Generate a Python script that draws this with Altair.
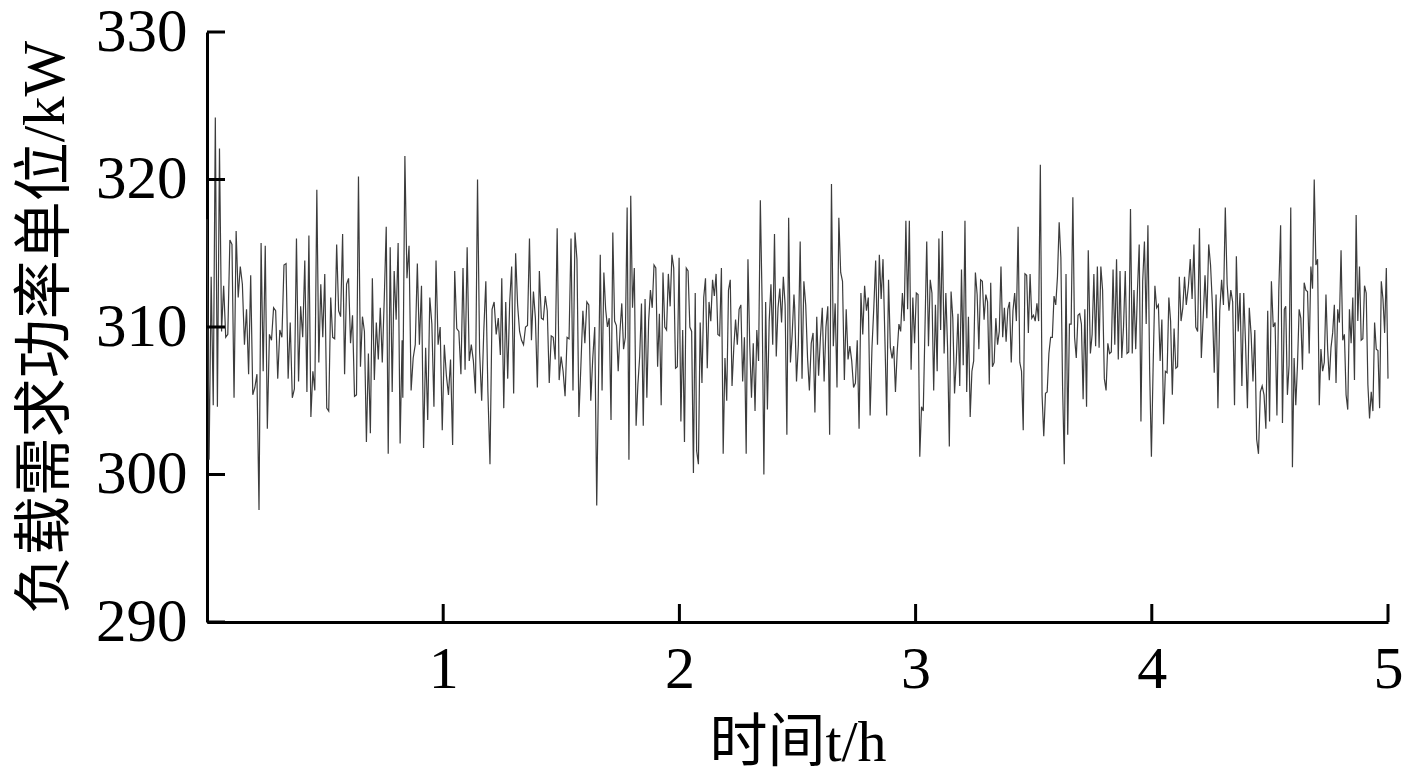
import altair as alt
import pandas as pd
import numpy as np

# Load demand values (kW), in 12 consecutive stretches
seg01 = [317.3, 301, 313.4, 304.7, 324.2, 304.6, 322.1, 309.7, 312.8, 309.3, 309.5, 315.9, 315.6, 305.2, 316.5, 312, 314.1, 312.9, 308.8, 311.2, 306.8, 313.5, 305.4, 305.9, 306.8, 297.6, 315.7, 307, 315.5, 303.1, 309.5, 309.1, 311.3, 311.1, 306.5, 309.8, 309.3, 314.2, 314.3, 306.5, 310.3, 305.2, 305.8, 316, 306.3, 311.4, 309.3, 314.5]
seg02 = [305.6, 316.2, 303.9, 307, 305.7, 319.3, 307.6, 312.9, 309.3, 313.6, 304.5, 304.3, 312, 309.3, 309.2, 315.6, 311.1, 310.7, 316.3, 306.8, 312.9, 313.3, 308.9, 310.8, 305.3, 305.4, 320.2, 307.3, 310.7, 309.7, 302.2, 308.2, 302.8, 313.3, 306.4, 310.3, 307.8, 311.3, 307.6, 311.9, 316.8, 301.4, 315.4, 305.6, 313.8, 310.5, 315.7, 302.1, 309.1]
seg03 = [305.2, 321.6, 313.3, 315.5, 305.7, 307.9, 308.8, 314.3, 308.8, 312.8, 301.8, 308.6, 303.7, 312, 310.2, 304.6, 314.5, 308.8, 310, 303, 308.8, 306.7, 305.4, 307.8, 302, 313.8, 309.9, 309.7, 306.8, 314, 307.1, 315.4, 307.7, 308.8, 307.7, 305.5, 320, 308.3, 305, 309.7, 313.1, 305.6, 300.7, 311.2, 311.7, 309.5, 310.6, 308.1]
seg04 = [313.3, 304.5, 311.7, 306.5, 311.7, 314.1, 305.5, 315, 311.5, 309.7, 309.1, 308.8, 310, 310.1, 316, 309.1, 312.4, 310.6, 305.9, 313.8, 310.6, 310.5, 312.1, 311.1, 306.2, 309.4, 309.3, 307.8, 316.7, 306.4, 308, 307, 305.3, 309.3, 309.2, 316, 305.7, 316.4, 314.6, 303.9, 307.4, 311.1, 308.9, 311.7, 311.5, 305, 307.9, 310, 297.9]
seg05 = [314.9, 305.7, 313.7, 311.2, 310, 310.6, 303.7, 316.4, 310.4, 310.1, 307, 309.7, 311.6, 308.5, 309.3, 318.1, 301, 318.9, 311.3, 314, 303.3, 306.1, 308, 311.6, 303.3, 311.9, 305.2, 310.4, 312.5, 311.3, 314.2, 314, 307.3, 310.9, 304.7, 313.7, 310, 309.8, 313.6, 311.4, 314.9, 314, 307.2, 307.3, 314.7, 303.6, 309.8, 302.2, 314, 313.8, 310, 309.7, 300.1, 312.3]
seg06 = [301.6, 300.7, 310.3, 306.2, 312, 313.3, 307.2, 311.7, 310.4, 313.2, 312.1, 313.6, 309.5, 309.4, 314, 301.4, 307.9, 305, 312.5, 313.2, 306, 308.6, 310.5, 308.8, 311.2, 311.5, 306.3, 309.3, 301.4, 314.6, 308.8, 305.2, 308.9, 304.3, 309.8, 307.7, 318.6, 311.7, 300, 311.7, 304.4, 310.4, 312.9, 308.8, 316.3, 308, 311.3, 312.6, 310.3, 313.4, 311.5, 302.7, 317.4, 307.6, 309.5, 312.2]
seg07 = [311.3, 306.3, 308.8, 315.8, 306.5, 313.1, 311.5, 307.9, 305.7, 308.9, 309.6, 304.2, 310.7, 306.7, 309.3, 311.3, 306.3, 310, 311.4, 302.7, 319.7, 308.7, 311.6, 305.9, 317.4, 313.7, 313.1, 306.4, 311.2, 307.8, 308.7, 307.7, 305.9, 306.2, 309.1, 303.1, 312.3, 309.5, 312.8, 311.1, 312, 304, 308.6, 311.3, 314.5, 308.8, 314.9, 311.9, 314.6, 309.3, 304, 313.2, 308.6, 307.9]
seg08 = [307.9, 308.7, 305.6, 308.3, 310.2, 309.7, 312.3, 310.4, 317.2, 311.2, 317.2, 307.1, 312, 308.9, 312.3, 312.2, 301.2, 304.6, 304.3, 310, 315.8, 308.7, 313.2, 312.3, 305.7, 311.5, 307, 316, 309.8, 316.5, 308.2, 312.3, 308.6, 301.9, 312.4, 310.6, 305.5, 307.7, 310.9, 306, 313.9, 307.4, 317.2, 305.6, 310.7, 303.9, 307, 307.7, 313.7, 312.2, 308.5, 313.2, 313.1, 310.5, 312.2, 311.7, 306.1]
seg09 = [313.0, 307.3, 307.6, 310.6, 308.8, 309.7, 314.1, 309.3, 311.3, 309, 311.2, 311.7, 307.6, 311.1, 312.3, 310.4, 316.8, 307.6, 307, 303, 313.6, 313.5, 309.6, 313.6, 310.6, 310.8, 310.4, 311.6, 310.4, 321, 305.4, 302.6, 305.5, 305.6, 308.2, 309.3, 309.3, 312.1, 311.5, 313.4, 317.1, 314.7, 305.9, 300.7, 313.6, 302.7, 310.2, 310.2, 318.8, 309.3, 307.9, 310.8, 310.9, 310.2, 305.1, 311.2, 304.6, 315.2]
seg10 = [308.2, 309.5, 313.6, 308.7, 314.1, 308.6, 314.1, 312.5, 306.5, 305.7, 308.9, 308.2, 308.3, 313.9, 308.8, 314.6, 307.8, 313.8, 307.9, 310, 313.8, 308.2, 308.3, 318, 308.2, 312.5, 308.5, 312.5, 315.6, 303.6, 313.1, 315.8, 310.2, 316.9, 307, 301.2, 307.4, 312.8, 311.3, 311.5, 307.7, 310.5, 303.4, 307, 306.9, 312, 310.4, 305.4, 309.9, 307.2, 307.3, 313.4, 310.4, 311.3, 313.4, 311.5]
seg11 = [312.8, 314.6, 311.9, 315.6, 310, 309.7, 316.7, 307.9, 310.6, 313.5, 310.6, 315.6, 314.2, 311.5, 306.9, 312.2, 304.5, 311.1, 313.2, 311.5, 318.1, 312.9, 311.1, 312.5, 311.7, 304.7, 314.8, 309.7, 312.3, 306, 312.3, 308.8, 304.5, 311.3, 309.5, 306.3, 309.8, 302.4, 301.4, 305.6, 306, 305.4, 303.1, 311.1, 303.6, 313.1, 310, 310.3, 304, 312.4, 316.9, 303.5, 311.2]
seg12 = [311.4, 305.4, 307.4, 318.1, 300.5, 307.9, 304.7, 307.4, 311.2, 310.6, 307.1, 313, 312.5, 312.4, 308.2, 314.1, 312.6, 320, 314.2, 314.6, 304.7, 308.5, 307, 307.6, 312.2, 308.5, 306.4, 308.6, 309.6, 311.5, 306.2, 311.2, 310.3, 315.2, 309.1, 309.5, 305.4, 304.4, 311.2, 308.9, 312, 306.4, 317.6, 310.4, 314.1, 309.1, 309.2, 312.8, 312.3, 306.1, 303.8, 305.6, 304.3, 310.3, 308.5, 308.4, 304.5, 313.1, 311.9, 309.6, 314, 306.5]

segments = [seg01, seg02, seg03, seg04, seg05, seg06, seg07, seg08, seg09, seg10, seg11, seg12]
# time span (hours) covered by each stretch
seg_start = [0.0, 0.423, 0.829, 1.248, 1.665, 2.073, 2.488, 2.900, 3.318, 3.740, 4.155, 4.567]
seg_end = [0.414, 0.826, 1.242, 1.650, 2.067, 2.485, 2.901, 3.312, 3.731, 4.146, 4.561, 5.0]

y_ticks = [290, 300, 310, 320, 330]
x_ticks = [1, 2, 3, 4, 5]

ts, vs = [], []
for seg, a, b in zip(segments, seg_start, seg_end):
    ts.extend(np.linspace(a, b, len(seg)).tolist())
    vs.extend(seg)
df = pd.DataFrame({"t": ts, "load": vs})

SERIF = "Liberation Serif, Times New Roman, Noto Sans CJK SC"

x_enc = alt.X("t:Q", scale=alt.Scale(domain=[0, 5], nice=False, zero=False),
              axis=alt.Axis(values=x_ticks, ticks=False, grid=False, domainWidth=3,
                            domainColor="black", labelFont=SERIF, labelFontSize=60,
                            labelColor="black", labelPadding=18, labelFlush=False,
                            title="时间t/h", titleFont=SERIF, titleFontSize=58,
                            titleFontWeight="normal", titleColor="black", titlePadding=15))
y_enc = alt.Y("load:Q", scale=alt.Scale(domain=[290, 330], nice=False, zero=False),
              axis=alt.Axis(values=y_ticks, ticks=False, grid=False, domainWidth=3,
                            domainColor="black", labelFont=SERIF, labelFontSize=61,
                            labelColor="black", labelPadding=20, labelFlush=False,
                            title="负载需求功率单位/kW", titleFont=SERIF, titleFontSize=59,
                            titleFontWeight="normal", titleColor="black", titlePadding=20))

line = alt.Chart(df).mark_line(color="#3c3c3c", strokeWidth=1.2).encode(x=x_enc, y=y_enc)

ytick = alt.Chart(pd.DataFrame({"load": y_ticks})).mark_rule(color="black", strokeWidth=3).encode(
    y=y_enc, x=alt.value(0), x2=alt.value(18))
xtick = alt.Chart(pd.DataFrame({"t": x_ticks})).mark_rule(color="black", strokeWidth=3).encode(
    x=x_enc, y=alt.value(590), y2=alt.value(572))

chart = alt.layer(line, ytick, xtick).properties(
    width=1181, height=590,
    autosize="none",
    background="white",
    padding={"left": 199, "top": 24, "right": 21, "bottom": 150},
).configure_view(stroke=None, strokeWidth=0)

chart.save("out.html", embed_options={"renderer": "svg", "actions": False})
